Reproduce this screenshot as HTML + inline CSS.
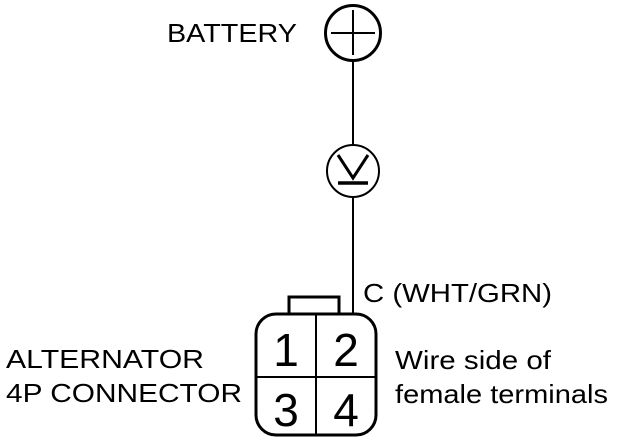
<!DOCTYPE html>
<html><head><style>html,body{margin:0;padding:0;background:#fff;}svg{display:block;}</style></head>
<body>
<svg width="624" height="448" viewBox="0 0 624 448" xmlns="http://www.w3.org/2000/svg">
<g font-family="Liberation Sans, sans-serif" font-size="26" fill="#000">
<text x="167" y="42" textLength="130" lengthAdjust="spacingAndGlyphs">BATTERY</text>
<text x="363" y="302" textLength="189" lengthAdjust="spacingAndGlyphs">C (WHT/GRN)</text>
<text x="6" y="368" textLength="198" lengthAdjust="spacingAndGlyphs">ALTERNATOR</text>
<text x="6" y="402" textLength="236" lengthAdjust="spacingAndGlyphs">4P CONNECTOR</text>
<text x="395" y="369" textLength="156" lengthAdjust="spacingAndGlyphs">Wire side of</text>
<text x="395" y="403" textLength="213" lengthAdjust="spacingAndGlyphs">female terminals</text>
</g>
<g stroke="#000" fill="none">
<circle cx="353" cy="33" r="27.5" stroke-width="3"/>
<line x1="331" y1="33" x2="375" y2="33" stroke-width="2"/>
<line x1="353" y1="10" x2="353" y2="55" stroke-width="2"/>
<line x1="353" y1="61" x2="353" y2="144" stroke-width="2"/>
<circle cx="353" cy="171" r="26" stroke-width="2"/>
<polyline points="338,155 353,178 368,155" stroke-width="3"/>
<line x1="338" y1="183" x2="368" y2="183" stroke-width="3.5"/>
<line x1="353" y1="197" x2="353" y2="314" stroke-width="2"/>
<rect x="289" y="297" width="50" height="17" stroke-width="3"/>
<rect x="256" y="314" width="120" height="121" rx="20" stroke-width="3" fill="#fff"/>
<line x1="316" y1="314" x2="316" y2="435" stroke-width="2"/>
<line x1="256" y1="377" x2="376" y2="377" stroke-width="2"/>
</g>
<g font-family="Liberation Sans, sans-serif" font-size="46" fill="#000" text-anchor="middle">
<text x="286" y="366">1</text>
<text x="346" y="366">2</text>
<text x="286" y="426">3</text>
<text x="346" y="426">4</text>
</g>
</svg>
</body></html>
